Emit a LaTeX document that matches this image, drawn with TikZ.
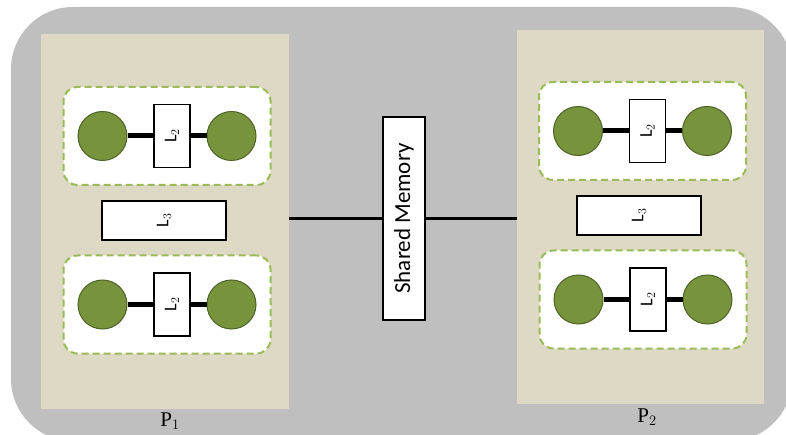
\documentclass[tikz,border=0pt]{standalone}
\usepackage{fontspec}
\setmainfont{Liberation Serif}
\newfontfamily\calibri{Carlito}
\usetikzlibrary{positioning}
\definecolor{outergray}{HTML}{BFBFBF}
\definecolor{paneltan}{HTML}{DDD9C4}
\definecolor{ballgreen}{HTML}{77933C}
\definecolor{balledge}{HTML}{4F6228}
\definecolor{dashgreen}{HTML}{9BBB59}
\begin{document}
\begin{tikzpicture}
[x=1pt,y=-1pt,
 panel/.style={fill=paneltan, draw=none, inner sep=0pt},
 group/.style={fill=white, draw=dashgreen, line width=2pt, dash pattern=on 7pt off 4pt, rounded corners=14pt, minimum width=207pt, minimum height=98pt, inner sep=0pt},
 ball/.style={circle, fill=ballgreen, draw=balledge, line width=1pt, minimum size=49pt, inner sep=0pt},
 lbox/.style={draw, fill=white, line width=1.3pt, font=\calibri\fontsize{18}{18}\selectfont, rotate=90, inner sep=0pt},
 plabel/.style={font=\fontsize{21}{21}\selectfont, inner sep=0pt},
 link/.style={line width=5pt}]
\useasboundingbox (0,0) rectangle (786,435);
% background
\fill [outergray, rounded corners=62pt] (11,7) rectangle (792,441);

% panels
\node [panel, minimum width=248pt, minimum height=375pt] (p1) at (165,221.5) {};
\node [panel, minimum width=247pt, minimum height=374pt] (p2) at (640.5,217) {};
\node [plabel] (p1lab) at (170,421) {P$_1$};
\node [plabel] (p2lab) at (647,417) {P$_2$};

% groups
\node [group] (g1) at (167,136) {};
\node [group] (g2) at (167,304.5) {};
\node [group] (g3) at (642.5,131) {};
\node [group] (g4) at (643,299.5) {};

% balls and L2 boxes
\node [ball] (g1a) at ([xshift=-64.5pt]g1.center) {};
\node [ball] (g1b) at ([xshift=64.5pt]g1.center) {};
\node [lbox, minimum width=63pt, minimum height=36pt] (g1l) at ([xshift=5pt]g1.center) {L$_2$};
\node [ball] (g2a) at ([xshift=-64.5pt]g2.center) {};
\node [ball] (g2b) at ([xshift=64.5pt]g2.center) {};
\node [lbox, minimum width=63pt, minimum height=36pt] (g2l) at ([xshift=5pt]g2.center) {L$_2$};
\node [ball] (g3a) at ([xshift=-64.5pt]g3.center) {};
\node [ball] (g3b) at ([xshift=64.5pt]g3.center) {};
\node [lbox, minimum width=63pt, minimum height=36pt] (g3l) at ([xshift=5pt]g3.center) {L$_2$};
\node [ball] (g4a) at ([xshift=-64.5pt]g4.center) {};
\node [ball] (g4b) at ([xshift=64.5pt]g4.center) {};
\node [lbox, minimum width=63pt, minimum height=36pt] (g4l) at ([xshift=5pt]g4.center) {L$_2$};

% links
\draw [link] (g1a) -- (g1l);
\draw [link] (g1l) -- (g1b);
\draw [link] (g2a) -- (g2l);
\draw [link] (g2l) -- (g2b);
\draw [link] (g3a) -- (g3l);
\draw [link] (g3l) -- (g3b);
\draw [link] (g4a) -- (g4l);
\draw [link] (g4l) -- (g4b);

% L3 boxes
\node [lbox, minimum width=39pt, minimum height=124pt] (l3a) at (164,220.5) {L$_3$};
\node [lbox, minimum width=39pt, minimum height=124pt] (l3b) at (639,215.5) {L$_3$};

% shared memory
\node [lbox, font=\calibri\fontsize{23}{23}\selectfont, minimum width=203pt, minimum height=42pt] (sm) at (404,218.5) {Shared Memory};
\draw [line width=2.6pt] (sm.north) -- (sm.north -| p1.east);
\draw [line width=2.6pt] (sm.south) -- (sm.south -| p2.west);
\end{tikzpicture}
\end{document}
